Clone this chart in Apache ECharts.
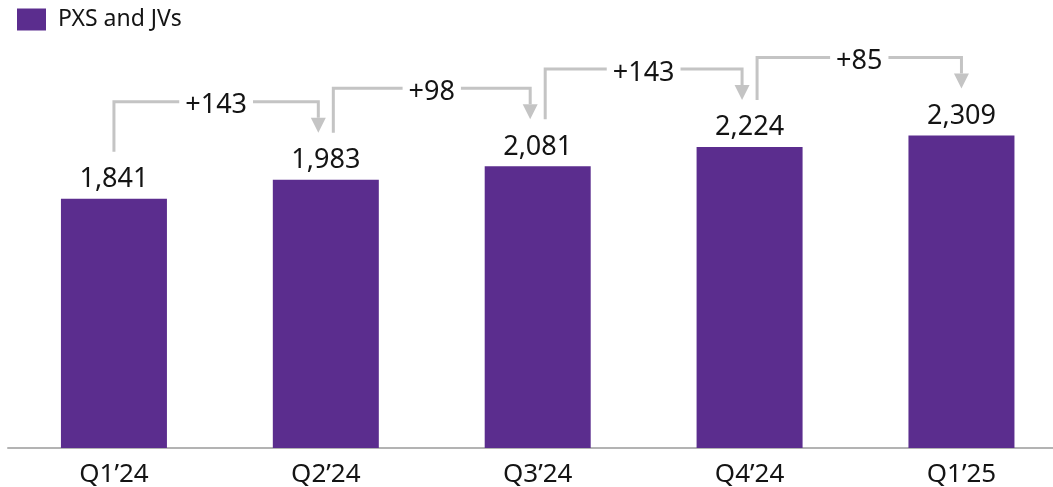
<!DOCTYPE html>
<html>
<head>
<meta charset="utf-8">
<script src="https://cdn.jsdelivr.net/npm/echarts@6/dist/echarts.min.js"></script>
<style>
html,body{margin:0;padding:0;background:#fff;}
#chart{width:1053px;height:487px;}
</style>
</head>
<body>
<div id="chart"></div>
<script>
const categories = ['Q1’24', 'Q2’24', 'Q3’24', 'Q4’24', 'Q1’25'];
const values = [1841, 1983, 2081, 2224, 2309];
const deltas = [143, 98, 143, 85];
const seriesName = 'PXS and JVs';

const FONT = '"Noto Sans", sans-serif';
const PURPLE = '#5B2D8E';
const GRAY = '#c4c4c4';
const TEXT = '#141414';

const chart = echarts.init(document.getElementById('chart'), null, {renderer: 'canvas'});

function renderBridge(params, api) {
  const i = api.value(0);
  const d = api.value(1);
  const p0 = api.coord([i, values[i]]);
  const p1 = api.coord([i + 1, values[i + 1]]);
  const hasIn = i > 0;
  const hasOut = i + 1 < values.length - 1;
  const x0 = p0[0] + (hasIn ? 7.5 : 0);
  const x1 = p1[0] - (hasOut ? 7.5 : 0);
  const yStart = p0[1] - 47;
  const yTip = p1[1] - 47;
  const yH = Math.min(p0[1], p1[1]) - 78;
  const head = 15;
  return {
    type: 'group',
    children: [
      {
        type: 'polyline',
        shape: {points: [[x0, yStart], [x0, yH], [x1, yH], [x1, yTip - head]]},
        style: {stroke: GRAY, lineWidth: 3, fill: null, lineJoin: 'miter'}
      },
      {
        type: 'polygon',
        shape: {points: [[x1 - 7.5, yTip - head], [x1 + 7.5, yTip - head], [x1, yTip]]},
        style: {fill: GRAY}
      },
      {
        type: 'text',
        x: (x0 + x1) / 2,
        y: yH + 4,
        style: {
          text: '+' + d,
          fontSize: 27,
          fontFamily: FONT,
          fill: TEXT,
          align: 'center',
          verticalAlign: 'middle',
          backgroundColor: '#fff',
          padding: [0, 6]
        }
      }
    ]
  };
}

chart.setOption({
  animation: false,
  textStyle: {fontFamily: FONT},
  legend: {
    data: [seriesName],
    left: 17,
    top: 8,
    padding: 0,
    icon: 'rect',
    itemWidth: 29,
    itemHeight: 22,
    textStyle: {fontSize: 23, color: TEXT, fontFamily: FONT, padding: [0, 0, 0, 7]}
  },
  grid: {left: 8, width: 1059.4, top: 42, bottom: 39, containLabel: false, outerBoundsMode: 'none'},
  xAxis: {
    type: 'category',
    data: categories,
    axisLine: {lineStyle: {color: '#b3b3b3', width: 2}},
    axisTick: {show: false},
    axisLabel: {fontSize: 26, color: TEXT, fontFamily: FONT, margin: 14}
  },
  yAxis: {
    type: 'value',
    min: 0,
    max: 3000,
    show: false,
    splitLine: {show: false}
  },
  series: [
    {
      name: seriesName,
      type: 'bar',
      data: values,
      barWidth: 106,
      itemStyle: {color: PURPLE},
      label: {
        show: true,
        position: 'top',
        distance: 6,
        fontSize: 27,
        color: TEXT,
        fontFamily: FONT,
        formatter: p => p.value.toLocaleString('en-US')
      }
    },
    {
      type: 'custom',
      silent: true,
      z: 5,
      renderItem: renderBridge,
      data: deltas.map((d, i) => [i, d])
    }
  ]
});
</script>
</body>
</html>
